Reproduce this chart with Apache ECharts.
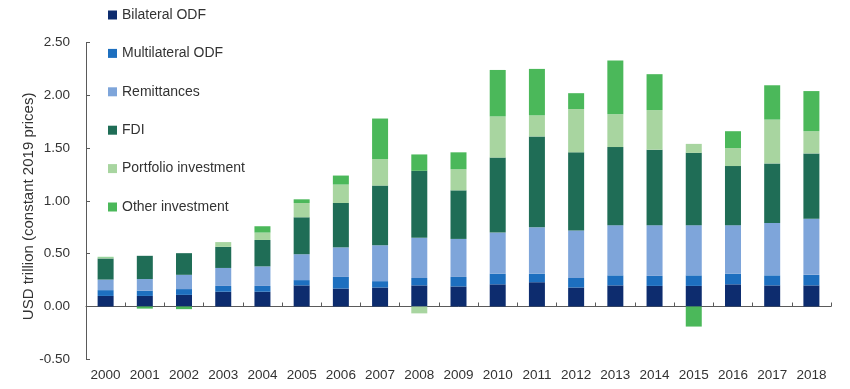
<!DOCTYPE html>
<html>
<head>
<meta charset="utf-8">
<script src="https://cdn.jsdelivr.net/npm/echarts@6/dist/echarts.min.js"></script>
<style>html,body{margin:0;padding:0;background:#fff;}#c{width:850px;height:389px;}</style>
</head>
<body>
<div id="c"></div>
<script>
const years = ['2000','2001','2002','2003','2004','2005','2006','2007','2008','2009','2010','2011','2012','2013','2014','2015','2016','2017','2018'];
const bilateral = [0.10,0.10,0.11,0.14,0.14,0.20,0.17,0.18,0.20,0.19,0.21,0.23,0.18,0.20,0.195,0.195,0.21,0.20,0.20];
const multilateral = [0.055,0.05,0.055,0.055,0.055,0.05,0.11,0.06,0.07,0.09,0.10,0.08,0.09,0.095,0.095,0.10,0.10,0.095,0.10];
const remittances = [0.10,0.11,0.135,0.17,0.185,0.245,0.28,0.34,0.38,0.36,0.39,0.44,0.45,0.475,0.48,0.475,0.46,0.495,0.53];
const fdi = [0.20,0.22,0.205,0.20,0.25,0.35,0.42,0.565,0.635,0.46,0.71,0.86,0.74,0.74,0.715,0.685,0.56,0.565,0.62];
const portfolio = [0.01,0,0,0.045,0.07,0.135,0.175,0.25,-0.065,0.20,0.39,0.20,0.41,0.31,0.375,0.085,0.17,0.415,0.21];
const other = [0.005,-0.02,-0.025,0,0.06,0.035,0.085,0.385,0.155,0.16,0.44,0.44,0.15,0.51,0.34,-0.19,0.16,0.325,0.38];
const yTicks = [-0.5,0,0.5,1.0,1.5,2.0,2.5];

const seriesDefs = [
  ['Bilateral ODF', bilateral, '#0d2c6e'],
  ['Multilateral ODF', multilateral, '#1d6fbf'],
  ['Remittances', remittances, '#7ea5da'],
  ['FDI', fdi, '#1f6d56'],
  ['Portfolio investment', portfolio, '#a8d5a0'],
  ['Other investment', other, '#4bb85a']
];
const font = 'Liberation Sans, Arial, sans-serif';
const chart = echarts.init(document.getElementById('c'));
chart.setOption({
  animation: false,
  textStyle: {fontFamily: font},
  legend: {
    orient: 'vertical', left: 103, top: 2,
    itemWidth: 9, itemHeight: 9, itemGap: 22.4, icon: 'rect',
    textStyle: {fontFamily: font, fontSize: 14, color: '#333', lineHeight: 16},
    data: seriesDefs.map(s => s[0])
  },
  grid: {left: 86, right: 19, top: 42.5, bottom: 29.7},
  xAxis: [{
    type: 'category', data: years,
    axisLine: {onZero: true, lineStyle: {color: '#5a5a5a', width: 1}},
    axisTick: {show: true, inside: true, length: 4, lineStyle: {color: '#5a5a5a'}},
    axisLabel: {show: false}
  }, {
    type: 'category', data: years, position: 'bottom',
    axisLine: {show: false}, axisTick: {show: false},
    axisLabel: {fontFamily: font, fontSize: 13.5, color: '#333', margin: 9}
  }],
  yAxis: {
    type: 'value', min: yTicks[0], max: yTicks[yTicks.length-1], interval: 0.5,
    name: 'USD trillion (constant 2019 prices)', nameLocation: 'middle', nameGap: 50,
    nameMoveOverlap: false,
    nameTextStyle: {fontFamily: font, fontSize: 15, color: '#333', padding: [0, 11, 0, 0]},
    axisLine: {show: true, lineStyle: {color: '#5a5a5a'}},
    axisTick: {show: true, inside: true, length: 4, lineStyle: {color: '#5a5a5a'}},
    axisLabel: {fontFamily: font, fontSize: 13.5, color: '#333', margin: 16, formatter: v => v.toFixed(2)},
    splitLine: {show: false}
  },
  series: seriesDefs.map(s => ({
    name: s[0], type: 'bar', stack: 'total', xAxisIndex: 0, barWidth: 16,
    itemStyle: {color: s[2]}, data: s[1]
  }))
});
</script>
</body>
</html>
